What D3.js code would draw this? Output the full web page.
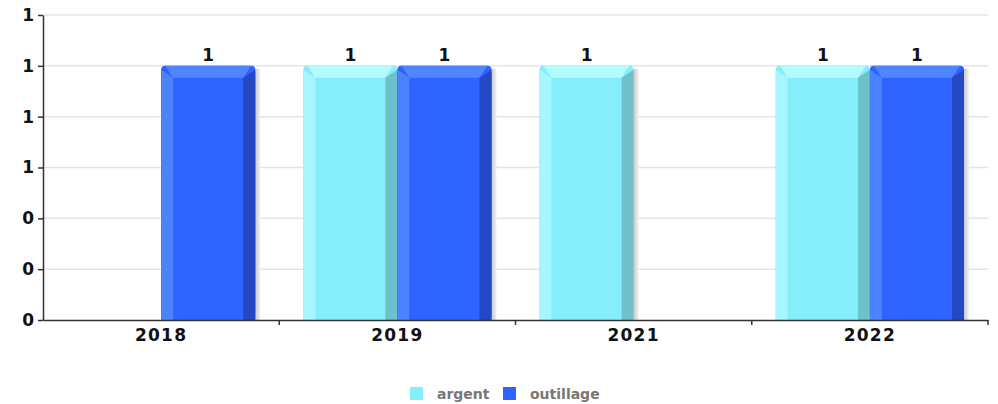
<!DOCTYPE html>
<html lang="en">
<head>
    <meta charset="UTF-8">
    <title>argent / outillage</title>
    <script type="text/javascript" src="https://d3js.org/d3.v7.min.js"></script>
    <style>
        body{ margin:0; background:#fff; }
        text{ font-family:"DejaVu Sans", sans-serif; }
    </style>
</head>
<body>
<script type="text/javascript">
    var width = 998, height = 404;

    // data
    var categories = ["2018", "2019", "2021", "2022"];
    var seriesNames = ["argent", "outillage"];
    var argent = [null, 1, 1, 1];
    var outillage = [1, 1, null, 1];
    var yTicks = [0, 0.2, 0.4, 0.6, 0.8, 1.0, 1.2];

    var colors = {
        argent:    {base:"#84eefb", light:"#b3fbff", side:"#a6f6ff", dark:"#6cc2c8"},
        outillage: {base:"#2f63ff", light:"#4f86ff", side:"#4a82ff", dark:"#2447c4"}
    };

    var margin = {top:15, right:10, bottom:84, left:43};
    var plotW = width - margin.left - margin.right;
    var plotH = height - margin.top - margin.bottom;

    var svg = d3.select("body").append("svg")
        .attr("width", width)
        .attr("height", height);

    var g = svg.append("g")
        .attr("transform", "translate(" + margin.left + "," + margin.top + ")");

    var x = d3.scaleBand().domain(categories).range([0, plotW]).paddingInner(0).paddingOuter(0);
    var x1 = d3.scaleBand().domain(seriesNames).range([24, x.bandwidth() - 24]).padding(0);
    var y = d3.scaleLinear().domain([0, 1.2]).range([plotH, 0]);

    // gridlines
    g.selectAll(".grid").data(yTicks.slice(1)).enter().append("line")
        .attr("x1", 0).attr("x2", plotW)
        .attr("y1", function(d){ return y(d); }).attr("y2", function(d){ return y(d); })
        .attr("stroke", "#e4e4e4").attr("stroke-width", 1.5);

    // bars
    var rows = [];
    categories.forEach(function(c, i){
        rows.push({cat:c, s:"argent", v:argent[i]});
        rows.push({cat:c, s:"outillage", v:outillage[i]});
    });
    rows = rows.filter(function(d){ return d.v != null; });

    var defs = svg.append("defs");
    var sh = defs.append("linearGradient").attr("id", "shadow");
    sh.append("stop").attr("offset", "0%").attr("stop-color", "#c8c8c8");
    sh.append("stop").attr("offset", "100%").attr("stop-color", "#f2f2f2");

    var b = 12;
    rows.forEach(function(d){
        var bx = x(d.cat) + x1(d.s), bw = x1.bandwidth();
        var by = y(d.v), base = y(0);
        var col = colors[d.s];
        var bar = g.append("g");
        // shadow
        bar.append("rect").attr("x", bx + bw).attr("y", by + 3)
            .attr("width", 5).attr("height", base - by - 3)
            .attr("fill", "url(#shadow)");
        bar.append("rect").attr("x", bx).attr("y", by).attr("width", bw).attr("height", base - by)
            .attr("fill", col.base).attr("rx", 4);
        bar.append("rect").attr("x", bx).attr("y", by + 6).attr("width", bw).attr("height", base - by - 6)
            .attr("fill", col.base);
        // top bevel
        bar.append("path").attr("fill", col.light)
            .attr("d", "M" + (bx + 4) + "," + by + "L" + (bx + bw - 4) + "," + by +
                "L" + (bx + bw - b) + "," + (by + b) + "L" + (bx + b) + "," + (by + b) + "Z");
        // left bevel
        bar.append("path").attr("fill", col.side)
            .attr("d", "M" + bx + "," + (by + 4) + "L" + (bx + b) + "," + (by + b) +
                "L" + (bx + b) + "," + base + "L" + bx + "," + base + "Z");
        // right bevel
        bar.append("path").attr("fill", col.dark)
            .attr("d", "M" + (bx + bw) + "," + (by + 4) + "L" + (bx + bw) + "," + base +
                "L" + (bx + bw - b) + "," + base + "L" + (bx + bw - b) + "," + (by + b) + "Z");
        // value label
        g.append("text").attr("x", bx + bw / 2).attr("y", by - 5)
            .attr("text-anchor", "middle").attr("font-size", 17).attr("font-weight", "bold")
            .attr("fill", "#111").text(d3.format(".0f")(d.v));
    });

    // y axis
    var yAxis = g.append("g")
        .call(d3.axisLeft(y).tickValues(yTicks).tickFormat(d3.format(".0f")).tickSize(5).tickSizeOuter(0));
    yAxis.select(".domain").attr("stroke", "#333").attr("stroke-width", 1.5);
    yAxis.selectAll(".tick line").attr("stroke", "#333").attr("stroke-width", 1.5);
    yAxis.selectAll(".tick text").attr("font-size", 17).attr("font-weight", "bold")
        .attr("fill", "#111").attr("x", -9).attr("font-family", "DejaVu Sans");

    // x axis
    var xAxis = g.append("g").attr("transform", "translate(0," + plotH + ")")
        .call(d3.axisBottom(x).tickSize(0).tickSizeOuter(0));
    xAxis.select(".domain").attr("stroke", "#333").attr("stroke-width", 1.5);
    xAxis.selectAll(".tick text").attr("font-size", 17).attr("font-weight", "bold")
        .attr("fill", "#111").attr("dy", "1.05em").attr("letter-spacing", 1.2)
        .attr("font-family", "DejaVu Sans");
    xAxis.selectAll(".sep").data(categories).enter().append("line")
        .attr("x1", function(d){ return x(d) + x.bandwidth(); })
        .attr("x2", function(d){ return x(d) + x.bandwidth(); })
        .attr("y1", 0).attr("y2", 5)
        .attr("stroke", "#333").attr("stroke-width", 1.5);

    // legend
    var legendX = [410, 503];
    var legend = svg.append("g");
    seriesNames.forEach(function(s, i){
        legend.append("rect").attr("x", legendX[i]).attr("y", 387)
            .attr("width", 13).attr("height", 13).attr("fill", colors[s].base);
        legend.append("text").attr("x", legendX[i] + 27).attr("y", 399)
            .attr("font-size", 14).attr("font-weight", "bold").attr("fill", "#777")
            .text(s);
    });
</script>
</body>
</html>
